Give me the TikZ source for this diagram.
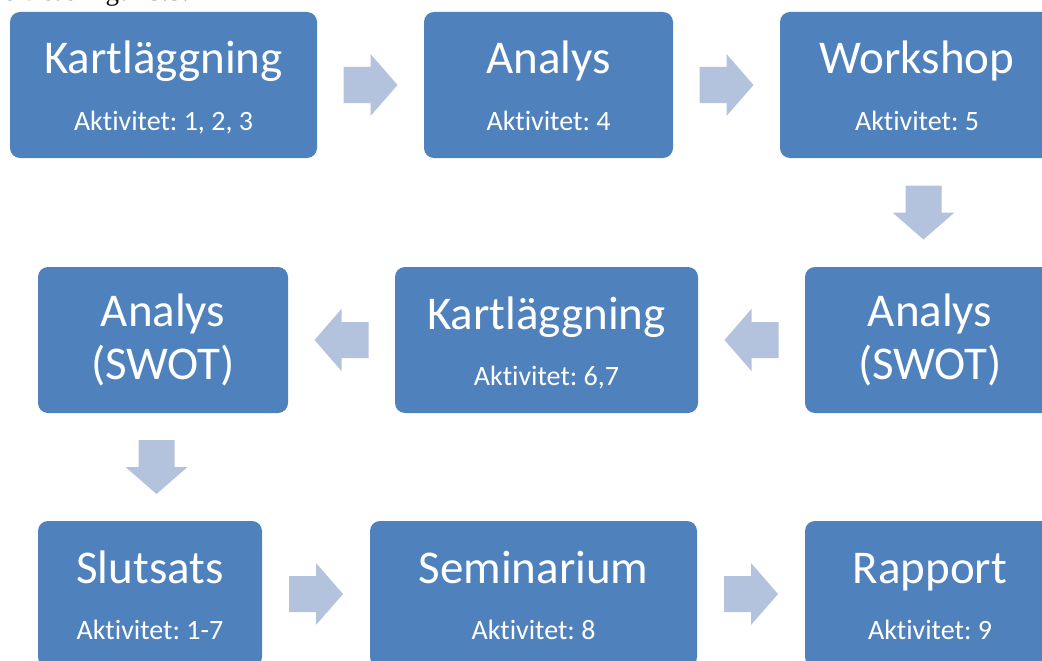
\documentclass[tikz,border=0pt]{standalone}
\usepackage{fontspec}
\setmainfont[Ligatures=NoCommon]{Carlito}
\newfontfamily\bodyfont{Liberation Serif}
\usepackage{tikz}
\usetikzlibrary{calc}
\definecolor{BoxBlue}{RGB}{79,129,189}
\definecolor{ArrowBlue}{RGB}{179,194,221}
\frenchspacing

\begin{document}
\begin{tikzpicture}[x=1pt,y=-1pt,
  box/.style={rectangle,rounded corners=10pt,fill=BoxBlue,inner sep=0pt,minimum height=146pt},
  ttl/.style={text=white,font=\fontsize{47}{56}\selectfont,anchor=base,inner sep=0pt},
  sub/.style={text=white,font=\fontsize{28}{33}\selectfont,anchor=base,inner sep=0pt},
  blockarr/.pic={\fill[ArrowBlue](-27,-18)--(0,-18)--(0,-31)--(27,0)--(0,31)--(0,18)--(-27,18)--cycle;}]
\useasboundingbox(0,0)rectangle(1042,661);
\clip(0,0)rectangle(1042,661);
\fill[white](0,0)rectangle(1042,661);
\node[font=\bodyfont\fontsize{27}{32}\selectfont,anchor=base west,inner sep=0pt](lead)at(-7,1){as visas Figur 3.3.};
% steps with title and activity line
\foreach \n/\x/\y/\w/\t/\s in {
  kart1/163.5/85/307/Kartläggning/{Aktivitet: 1, 2, 3},
  analys1/548.5/85/249/Analys/{Aktivitet: 4},
  workshop/917/85/274/Workshop/{Aktivitet: 5},
  kart2/546.5/340/303/Kartläggning/{Aktivitet: 6,7},
  slutsats/150/594/224/Slutsats/{Aktivitet: 1-7},
  seminarium/533.5/594/327/Seminarium/{Aktivitet: 8},
  rapport/930/594/250/Rapport/{Aktivitet: 9}
}{
  \node[box,minimum width=\w pt](\n)at(\x,\y){};
  \node[ttl](\n-t)at([yshift=11pt]\n.center){\t};
  \node[sub](\n-s)at([yshift=-45pt]\n.center){\s};
}
% SWOT steps, two title lines
\foreach \n/\x in {swotL/163,swotR/930}{
  \node[box,minimum width=250pt](\n)at(\x,340){};
  \node[ttl](\n-t)at([yshift=14pt]\n.center){Analys};
  \node[ttl](\n-u)at([yshift=-39pt]\n.center){(SWOT)};
}
% block arrows
\path($(kart1.east)!0.5!(analys1.west)$)pic{blockarr};
\path($(analys1.east)!0.5!(workshop.west)$)pic{blockarr};
\path($(workshop.south)!0.5!(swotR.north)$)pic[rotate=-90]{blockarr};
\path($(swotR.west)!0.5!(kart2.east)$)pic[rotate=180]{blockarr};
\path($(kart2.west)!0.5!(swotL.east)$)pic[rotate=180]{blockarr};
\path($(swotL.south)!0.5!(slutsats.north)$)pic[rotate=-90]{blockarr};
\path($(slutsats.east)!0.5!(seminarium.west)$)pic{blockarr};
\path($(seminarium.east)!0.5!(rapport.west)$)pic{blockarr};
\end{tikzpicture}
\end{document}
